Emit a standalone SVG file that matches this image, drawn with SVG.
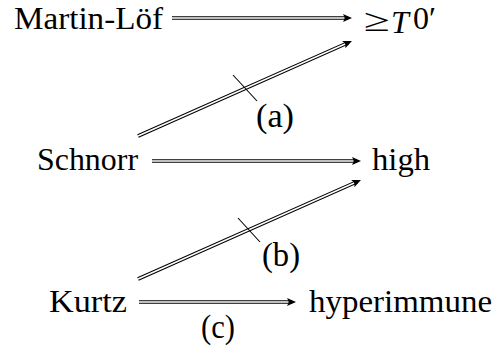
<svg xmlns="http://www.w3.org/2000/svg" width="496" height="349" viewBox="0 0 496 349">
<style>
text{font-family:'Liberation Serif','Times New Roman',serif;fill:#000}
.lbl{font-size:32px}
.sm{font-size:33px}
.out{stroke:#000;stroke-width:3.6;fill:none;marker-end:url(#ah)}
.in{stroke:#fff;stroke-width:1.4;fill:none}
.tick{stroke:#000;stroke-width:1.1;fill:none}
</style>
<defs>
<marker id="ah" markerUnits="userSpaceOnUse" viewBox="-1 -5 11 10" markerWidth="11" markerHeight="10" refX="5" refY="0" orient="auto" overflow="visible">
<path d="M0,-4 L9,0 L0,4 L2,0 Z" fill="#000"/>
</marker>
</defs>
<g id="martin-lof"><text class="lbl" x="14" y="29" textLength="149" lengthAdjust="spacingAndGlyphs">Martin-Löf</text></g>
<g id="geq-t-0"><text class="lbl" x="364" y="31" font-size="40" textLength="26" lengthAdjust="spacingAndGlyphs">≥</text><text class="lbl" x="391" y="33" font-style="italic" font-size="22">T</text><text class="lbl" x="413" y="29">0′</text></g>
<g id="schnorr"><text class="lbl" x="37" y="170" textLength="101" lengthAdjust="spacingAndGlyphs">Schnorr</text></g>
<g id="high"><text class="lbl" x="372" y="170" textLength="58" lengthAdjust="spacingAndGlyphs">high</text></g>
<g id="kurtz"><text class="lbl" x="49" y="312" textLength="78" lengthAdjust="spacingAndGlyphs">Kurtz</text></g>
<g id="hyperimmune"><text class="lbl" x="309" y="312" textLength="183" lengthAdjust="spacingAndGlyphs">hyperimmune</text></g>
<g id="connectors">
<path class="out" d="M172,18 L348,18"/><path class="in" d="M172,18 L344.5,18"/>
<path class="out" d="M138,136 L348.3,42.6"/><path class="in" d="M138,136 L345.1,44"/>
<path class="tick" d="M233,75 L257,101"/>
<text class="sm" x="256" y="127" textLength="38" lengthAdjust="spacingAndGlyphs">(a)</text>
<path class="out" d="M152,161 L357,161"/><path class="in" d="M152,161 L353.5,161"/>
<path class="out" d="M138,279 L357.3,181.6"/><path class="in" d="M138,279 L354.1,183"/>
<path class="tick" d="M238,218 L260,242"/>
<text class="sm" x="262" y="266" textLength="38" lengthAdjust="spacingAndGlyphs">(b)</text>
<path class="out" d="M139,302 L292,302"/><path class="in" d="M139,302 L288.5,302"/>
<text class="sm" x="201" y="338" textLength="34" lengthAdjust="spacingAndGlyphs">(c)</text>
</g>
</svg>
